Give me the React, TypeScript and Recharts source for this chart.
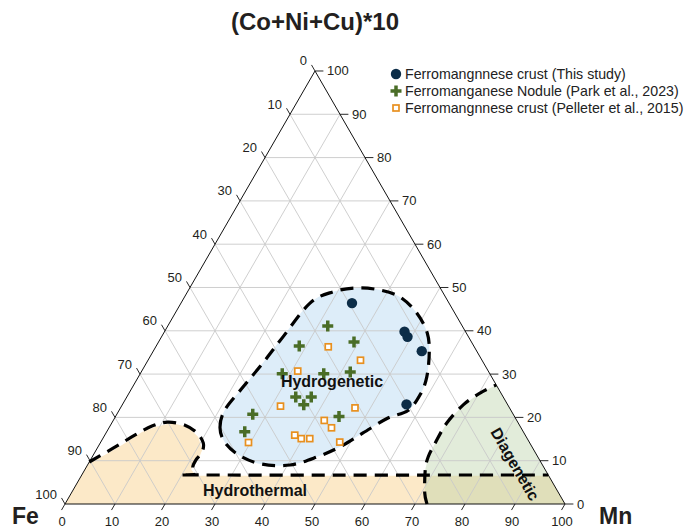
import React from "react";
import { ScatterChart, Scatter, XAxis, YAxis, Legend } from "recharts";

// Compositions are [Mn, (Co+Ni+Cu)*10]; Fe makes up the rest to 100
type Comp = [number, number];

const H = Math.sqrt(3) / 2;
const toXY = ([mn, c]: Comp) => ({ x: mn + c / 2, y: c * H });

const W = 689;
const HT = 529;
const FONT = '"Liberation Sans", Arial, Helvetica, sans-serif';

const NAVY = "#0c2d48";
const GREEN = "#4a6d27";
const ORANGE = "#e8901f";
const GRID = "#c9c9c9";

const thisStudy: Comp[] = [
  [34.2, 46.4], [48.0, 39.8], [49.2, 38.6], [53.7, 35.3], [56.8, 23.0],
];

const parkNodules: Comp[] = [
  [32.0, 41.1], [28.6, 36.5], [39.1, 37.4], [28.4, 30.1], [36.7, 30.1], [41.8, 30.5],
  [33.8, 24.7], [36.9, 24.7], [36.3, 22.9], [27.2, 20.7], [44.7, 20.2], [27.6, 16.7],
];

const pelleterCrusts: Comp[] = [
  [34.5, 36.3], [42.5, 33.2], [31.2, 30.7], [31.8, 22.6], [46.9, 22.2], [42.2, 19.3],
  [44.5, 17.6], [38.0, 15.9], [39.7, 15.1], [41.4, 15.1], [47.8, 14.3], [29.6, 14.2],
];

const seriesNames = [
  "Ferromangnnese crust (This study)",
  "Ferromanganese Nodule (Park et al., 2023)",
  "Ferromangnnese crust (Pelleter et al., 2015)",
];

// Field outlines
const hydrogeneticField: Comp[] = [
  [22.2, 17.6], [21.1, 21.7], [22.1, 27.0], [23.3, 32.6], [24.3, 38.6], [25.8, 46.4],
  [29.1, 49.0], [33.5, 49.9], [38.3, 49.4], [43.1, 47.8], [48.3, 44.1], [52.7, 39.5],
  [55.4, 34.9], [57.7, 29.3], [58.4, 25.4], [57.8, 21.6], [54.6, 19.8], [51.4, 16.4],
  [48.4, 13.2], [45.0, 10.9], [40.5, 9.0], [34.8, 9.2], [29.5, 11.1], [25.0, 14.1],
];

const hydrothermalFill: Comp[] = [
  [0, 0], [0, 9.5], [2.3, 11.3], [4.6, 13.6], [7.1, 16.6], [9.1, 17.8], [12.0, 18.7],
  [15.7, 17.8], [18.9, 15.5], [21.2, 12.5], [21.5, 10.6], [20.9, 9.5], [21.3, 7.9],
  [23.0, 6.5], [93.5, 6.5], [100, 0],
];

const hydrothermalBoundary: Comp[] = [
  [0, 9.7], [1.4, 11.1], [3.7, 13.4], [6.0, 15.9], [8.4, 18.0], [11.1, 18.9],
  [14.9, 18.2], [18.2, 16.4], [20.6, 14.1], [21.4, 12.0], [21.1, 10.2], [21.3, 8.5],
  [22.7, 6.9], [25.6, 6.7], [93.3, 6.7],
];

const diageneticBoundary: Comp[] = [
  [72.4, 0], [70.7, 2.5], [68.1, 7.9], [67.2, 10.9], [67.0, 14.1], [67.0, 18.7],
  [68.2, 22.9], [70.2, 25.6], [72.5, 27.5],
];
const diageneticFill: Comp[] = [...diageneticBoundary, [100, 0]];

const fieldNames = [
  { text: "Hydrogenetic", at: [39.2, 28.4] as Comp, rotate: 0 },
  { text: "Hydrothermal", at: [36.4, 3.2] as Comp, rotate: 0 },
  { text: "Diagenetic", at: [85.4, 9.2] as Comp, rotate: 60 },
];

const gridLevels = [10, 20, 30, 40, 50, 60, 70, 80, 90];
const tickLevels = [0, 10, 20, 30, 40, 50, 60, 70, 80, 90, 100];

const triangle: Comp[] = [[0, 0], [100, 0], [0, 100]];

// pairs of endpoints, one pair per grid line
const gridSegments = gridLevels.flatMap((k) => [
  toXY([0, k]), toXY([100 - k, k]),
  toXY([k, 0]), toXY([k, 100 - k]),
  toXY([100 - k, 0]), toXY([0, 100 - k]),
]);

const TICK = 1.4;
const tickSegments = tickLevels.flatMap((k) => {
  const b = toXY([k, 0]);
  const r = toXY([100 - k, k]);
  const l = toXY([0, 100 - k]);
  return [
    b, { x: b.x - TICK * 0.5, y: b.y - TICK * H },
    r, { x: r.x + TICK * 1.2, y: r.y },
    l, { x: l.x - TICK * 0.5, y: l.y + TICK * H },
  ];
});

const axisLabels = tickLevels.flatMap((k) => [
  { ...toXY([k, 0]), text: String(k), side: "bottom" },
  { ...toXY([100 - k, k]), text: String(k), side: "right" },
  { ...toXY([0, 100 - k]), text: String(k), side: "left" },
]);

const labelOffset: Record<string, { dx: number; dy: number; anchor: string }> = {
  bottom: { dx: -3, dy: 17, anchor: "middle" },
  right: { dx: 12, dy: 0, anchor: "start" },
  left: { dx: -8, dy: -10, anchor: "end" },
};

type Pt = { x: number; y: number };

function smoothPath(pts: Pt[], closed: boolean) {
  const n = pts.length;
  const get = (i: number) => (closed ? pts[(i + n) % n] : pts[Math.max(0, Math.min(n - 1, i))]);
  let d = `M${pts[0].x},${pts[0].y}`;
  const segs = closed ? n : n - 1;
  for (let i = 0; i < segs; i++) {
    const p0 = get(i - 1), p1 = get(i), p2 = get(i + 1), p3 = get(i + 2);
    const c1x = p1.x + (p2.x - p0.x) / 6, c1y = p1.y + (p2.y - p0.y) / 6;
    const c2x = p2.x - (p3.x - p1.x) / 6, c2y = p2.y - (p3.y - p1.y) / 6;
    d += ` C${c1x},${c1y} ${c2x},${c2y} ${p2.x},${p2.y}`;
  }
  return closed ? d + "Z" : d;
}

const linePath = (pts: Pt[], closed: boolean) =>
  pts.map((p, i) => `${i ? "L" : "M"}${p.x},${p.y}`).join("") + (closed ? "Z" : "");

const fillLine = (fill: string, smooth: boolean, opacity = 1) => (props: any) => (
  <path
    d={smooth ? smoothPath(props.points, true) : linePath(props.points, true)}
    fill={fill}
    fillOpacity={opacity}
    stroke="none"
  />
);

const dashLine = (closed: boolean) => (props: any) => (
  <path
    d={smoothPath(props.points, closed)}
    fill="none"
    stroke="#000"
    strokeWidth={3.2}
    strokeDasharray="13 8"
  />
);

const segmentLine = (stroke: string, width: number) => (props: any) => {
  const pts: Pt[] = props.points;
  let d = "";
  for (let i = 0; i + 1 < pts.length; i += 2) {
    d += `M${pts[i].x},${pts[i].y}L${pts[i + 1].x},${pts[i + 1].y}`;
  }
  return <path d={d} fill="none" stroke={stroke} strokeWidth={width} />;
};

const outlineLine = (props: any) => (
  <path d={linePath(props.points, true)} fill="none" stroke="#111" strokeWidth={1} />
);

const noMarker = () => <g />;

const DotMark = ({ cx, cy }: any) => <circle cx={cx} cy={cy} r={5.2} fill={NAVY} />;

const CrossMark = ({ cx, cy }: any) => (
  <path
    d={`M${cx - 1.75},${cy - 5.5}h3.5v3.75h3.75v3.5h-3.75v3.75h-3.5v-3.75h-3.75v-3.5h3.75z`}
    fill={GREEN}
  />
);

const SquareMark = ({ cx, cy }: any) => (
  <rect x={cx - 3} y={cy - 3} width={6} height={6} fill="#fff" stroke={ORANGE} strokeWidth={1.7} />
);

const AxisText = ({ cx, cy, payload }: any) => {
  const o = labelOffset[payload.side];
  return (
    <text
      x={cx + o.dx}
      y={cy + o.dy}
      textAnchor={o.anchor as any}
      dominantBaseline="central"
      fontSize={13}
      fontFamily={FONT}
      fill="#231f20"
    >
      {payload.text}
    </text>
  );
};

const FieldText = ({ cx, cy, payload }: any) => (
  <text
    x={cx}
    y={cy}
    textAnchor="middle"
    dominantBaseline="central"
    fontSize={16}
    fontWeight="bold"
    fontFamily={FONT}
    fill="#111"
    transform={payload.rotate ? `rotate(${payload.rotate} ${cx} ${cy})` : undefined}
  >
    {payload.text}
  </text>
);

const legendIcons = [
  <DotMark cx={6} cy={6} />,
  <CrossMark cx={6} cy={6} />,
  <SquareMark cx={6} cy={6} />,
];

// only the three sample series, in drawing order
const renderLegend = () => (
  <div style={{ fontFamily: FONT, fontSize: 14.2, color: "#222" }}>
    {seriesNames.map((name, i) => (
      <div key={name} style={{ display: "flex", alignItems: "center", height: 17 }}>
        <svg width={12} height={12} style={{ marginRight: 3, flex: "none" }}>
          {legendIcons[i]}
        </svg>
        <span style={{ whiteSpace: "nowrap" }}>{name}</span>
      </div>
    ))}
  </div>
);

const cornerLabel: React.CSSProperties = {
  position: "absolute",
  top: 503,
  fontSize: 23,
  fontWeight: "bold",
  color: "#231f20",
  lineHeight: "26px",
};

export default function App() {
  return (
    <div
      style={{
        position: "absolute",
        left: 0,
        top: 0,
        width: W,
        height: HT,
        background: "#fff",
        fontFamily: FONT,
        overflow: "hidden",
      }}
    >
      <ScatterChart width={W} height={HT} margin={{ top: 0, right: 0, bottom: 0, left: 0 }}>
        <XAxis type="number" dataKey="x" domain={[-13, 124.8]} hide />
        <YAxis type="number" dataKey="y" domain={[-5, 100.8]} hide />

        {/* field fills */}
        <Scatter data={hydrothermalFill.map(toXY)} shape={noMarker} line={fillLine("#fce9c8", false)} legendType="none" isAnimationActive={false} />
        <Scatter data={diageneticFill.map(toXY)} shape={noMarker} line={fillLine("#b9d2a6", false, 0.42)} legendType="none" isAnimationActive={false} />
        <Scatter data={hydrogeneticField.map(toXY)} shape={noMarker} line={fillLine("#ddedf9", true)} legendType="none" isAnimationActive={false} />

        {/* grid, frame and ticks */}
        <Scatter data={gridSegments} shape={noMarker} line={segmentLine(GRID, 0.9)} legendType="none" isAnimationActive={false} />
        <Scatter data={triangle.map(toXY)} shape={noMarker} line={outlineLine} legendType="none" isAnimationActive={false} />
        <Scatter data={tickSegments} shape={noMarker} line={segmentLine("#111", 0.9)} legendType="none" isAnimationActive={false} />
        <Scatter data={axisLabels} shape={AxisText} legendType="none" isAnimationActive={false} />

        {/* field boundaries */}
        <Scatter data={hydrogeneticField.map(toXY)} shape={noMarker} line={dashLine(true)} legendType="none" isAnimationActive={false} />
        <Scatter data={hydrothermalBoundary.map(toXY)} shape={noMarker} line={dashLine(false)} legendType="none" isAnimationActive={false} />
        <Scatter data={diageneticBoundary.map(toXY)} shape={noMarker} line={dashLine(false)} legendType="none" isAnimationActive={false} />

        {/* samples */}
        <Scatter name={seriesNames[0]} data={thisStudy.map(toXY)} shape={DotMark} fill={NAVY} isAnimationActive={false} />
        <Scatter name={seriesNames[1]} data={parkNodules.map(toXY)} shape={CrossMark} fill={GREEN} isAnimationActive={false} />
        <Scatter name={seriesNames[2]} data={pelleterCrusts.map(toXY)} shape={SquareMark} fill={ORANGE} isAnimationActive={false} />

        <Scatter
          data={fieldNames.map((f) => ({ ...toXY(f.at), text: f.text, rotate: f.rotate }))}
          shape={FieldText}
          legendType="none"
          isAnimationActive={false}
        />

        <Legend
          layout="vertical"
          align="center"
          verticalAlign="middle"
          content={renderLegend}
          wrapperStyle={{ position: "absolute", left: 390, top: 65, width: 299 }}
        />
      </ScatterChart>

      <div style={{ position: "absolute", left: 165, top: 9, width: 300, textAlign: "center", fontSize: 24, fontWeight: "bold", color: "#231f20", lineHeight: "26px" }}>
        (Co+Ni+Cu)*10
      </div>
      <div style={{ ...cornerLabel, left: 12 }}>Fe</div>
      <div style={{ ...cornerLabel, left: 599 }}>Mn</div>
    </div>
  );
}
